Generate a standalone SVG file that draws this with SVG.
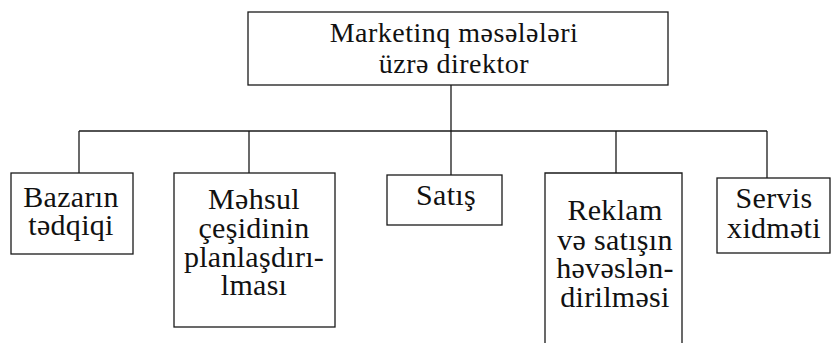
<svg xmlns="http://www.w3.org/2000/svg" width="831" height="343" viewBox="0 0 831 343">
  <style>
    .box { fill: #fff; stroke: #1a1a1a; stroke-width: 1.3; }
    .wire { fill: none; stroke: #1a1a1a; stroke-width: 1.3; }
    text { font-family: "Liberation Serif", "DejaVu Serif", "Times New Roman", serif; fill: #111; text-anchor: middle; }
    .top { font-size: 28px; letter-spacing: 0.5px; }
    .lbl { font-size: 30px; letter-spacing: 0.3px; }
  </style>
  <rect width="831" height="343" fill="#fff"/>

  <!-- connectors -->
  <g id="connectors">
    <path class="wire" d="M451 85 V175"/>
    <path class="wire" d="M79 131 H767"/>
    <path class="wire" d="M79 131 V173"/>
    <path class="wire" d="M249 131 V173"/>
    <path class="wire" d="M616 131 V173"/>
    <path class="wire" d="M767 131 V178"/>
  </g>

  <g id="director">
    <rect class="box" x="248" y="12" width="420" height="73"/>
    <text class="top" x="454" y="42">Marketinq məsələləri</text>
    <text class="top" x="454" y="73">üzrə direktor</text>
  </g>

  <g id="market-research">
    <rect class="box" x="11" y="173" width="122" height="81"/>
    <text class="lbl" x="71" y="207">Bazarın</text>
    <text class="lbl" x="71" y="235">tədqiqi</text>
  </g>

  <g id="product-planning">
    <rect class="box" x="174" y="173" width="161" height="154"/>
    <text class="lbl" x="254" y="209">Məhsul</text>
    <text class="lbl" x="254" y="238">çeşidinin</text>
    <text class="lbl" x="254" y="267">planlaşdırı-</text>
    <text class="lbl" x="254" y="295">lması</text>
  </g>

  <g id="sales">
    <rect class="box" x="387" y="175" width="115" height="50"/>
    <text class="lbl" x="446" y="205">Satış</text>
  </g>

  <g id="advertising">
    <path class="box" d="M545 343 V173 H682 V343"/>
    <text class="lbl" x="615" y="220">Reklam</text>
    <text class="lbl" x="615" y="250">və satışın</text>
    <text class="lbl" x="615" y="278">həvəslən-</text>
    <text class="lbl" x="615" y="307">dirilməsi</text>
  </g>

  <g id="service">
    <rect class="box" x="717" y="178" width="113" height="75"/>
    <text class="lbl" x="774" y="208">Servis</text>
    <text class="lbl" x="774" y="238">xidməti</text>
  </g>
</svg>
